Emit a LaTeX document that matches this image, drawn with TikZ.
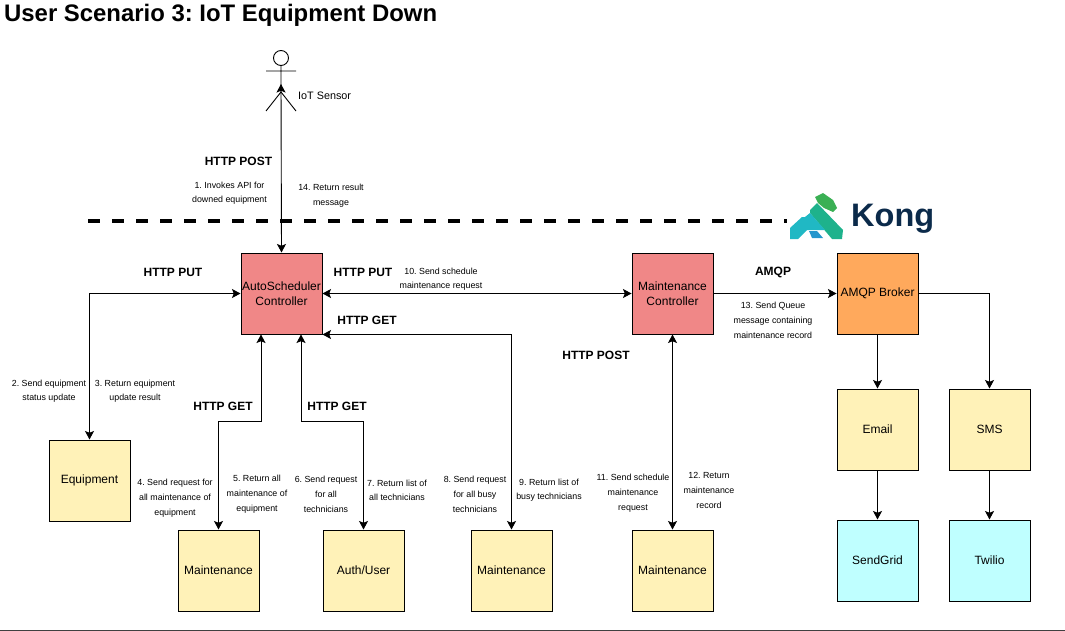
\documentclass[tikz,border=0pt]{standalone}
\usepackage{fontspec}
\setmainfont{Liberation Sans}
\usetikzlibrary{arrows.meta,calc}
\definecolor{redbox}{HTML}{F08787}
\definecolor{orangebox}{HTML}{FFA95C}
\definecolor{yellowbox}{HTML}{FFF2B8}
\definecolor{cyanbox}{HTML}{BFFFFF}
\definecolor{kongnavy}{HTML}{0B2A4A}
\tikzset{
  x=1pt,y=-1pt,
  tip/.tip={Stealth[length=8.5pt,width=9pt,inset=1.8pt]},
  box/.style={draw=black,line width=1pt,minimum width=81pt,minimum height=81pt,inner sep=0pt,align=center,font=\fontsize{12}{15.5}\selectfont},
  ctrl/.style={box,fill=redbox},
  broker/.style={box,fill=orangebox},
  svc/.style={box,fill=yellowbox},
  ext/.style={box,fill=cyanbox},
  conn/.style={line width=0.9pt,-tip},
  biconn/.style={line width=0.9pt,tip-tip},
  proto/.style={font=\bfseries\fontsize{12}{14}\selectfont,inner sep=0pt},
  note/.style={font=\fontsize{8.85}{14.7}\selectfont,align=center,inner sep=0pt,yshift=-0.8pt},
}
\begin{document}
\begin{tikzpicture}
\frenchspacing
\useasboundingbox (0,0) rectangle (1065,631);
\node[anchor=west,inner sep=0pt,font=\bfseries\fontsize{23.9}{26}\selectfont] (title) at (4,15) {User Scenario 3: IoT Equipment Down};
\coordinate (ruleL) at (0,630);\coordinate (ruleR) at (1065,630);
\draw[line width=0.7pt,black!75] (ruleL) -- (ruleR);
% gateway
\coordinate (gwL) at (88,221);\coordinate (gwR) at (787,221);
\draw[line width=3.3pt,dash pattern=on 12pt off 12pt] (gwL) -- (gwR);
% logo
\fill[color={rgb,255:red,58;green,176;blue,84}] (815,197) -- (823,193) -- (833,200) -- (837,208) -- (833,212) -- (824,208) -- (818,203) -- cycle;
\fill[color={rgb,255:red,30;green,178;blue,140}] (810,210) -- (817,203) -- (843,230) -- (842,239) -- (832,239) -- (810,213) -- cycle;
\fill[color={rgb,255:red,32;green,184;blue,196}] (790,228) -- (802,217) -- (805,217) -- (810,213) -- (825,230) -- (807,230) -- (798,239) -- (790,239) -- cycle;
\fill[color={rgb,255:red,36;green,150;blue,205}] (809,231) -- (817,231) -- (823,238) -- (812,238) -- cycle;
\node[anchor=west,inner sep=0pt,text=kongnavy,font=\bfseries\fontsize{32.5}{36}\selectfont] (kong) at (851,219) {Kong};
% actor
\node[draw,circle,line width=0.9pt,minimum size=15pt,inner sep=0pt] (head) at (281,58) {};
\coordinate (armL) at (266,71);\coordinate (armR) at (296,71);
\coordinate (hip) at (281,92);\coordinate (legL) at (266,111);\coordinate (legR) at (296,111);\coordinate (sensor) at (281,84);
\draw[line width=0.9pt] (head) -- (hip) (armL) -- (armR) (legL) -- (hip) -- (legR);
\node[anchor=west,inner sep=0pt,font=\fontsize{10.8}{12}\selectfont] (sensorlabel) at (298,96) {IoT Sensor};
% boxes
\node[ctrl] (auto) at (281.5,293.5) {AutoScheduler\\Controller};
\node[ctrl] (mc) at (672.5,293.5) {Maintenance\\Controller};
\node[broker] (amqp) at (877.5,293.5) {AMQP Broker};
\node[svc] (equip) at (89.5,480.5) {Equipment};
\node[svc] (m1) at (218.5,570.5) {Maintenance};
\node[svc] (authu) at (363.5,570.5) {Auth/User};
\node[svc] (m2) at (511.5,570.5) {Maintenance};
\node[svc] (m3) at (672.5,570.5) {Maintenance};
\node[svc] (email) at (877.5,429.5) {Email};
\node[svc] (sms) at (989.5,429.5) {SMS};
\node[ext] (sendgrid) at (877.5,560.5) {SendGrid};
\node[ext] (twilio) at (989.5,560.5) {Twilio};
% connectors
\draw[biconn] (sensor) -- (auto.north);
\draw[biconn] (auto.west) -| (equip.north);
\draw[biconn] (auto.south -| 261,0) -- (261,421) -| (m1.north);
\draw[biconn] (auto.south -| 301,0) -- (301,421) -| (authu.north);
\draw[biconn] (auto.south east) -- (m2.north |- auto.south) -- (m2.north);
\draw[biconn] (auto.east) -- (mc.west);
\draw[biconn] (mc.south) -- (m3.north);
\draw[conn] (mc.east) -- (amqp.west);
\draw[conn] (amqp.south) -- (email.north);
\draw[conn] (amqp.east) -| (sms.north);
\draw[conn] (email.south) -- (sendgrid.north);
\draw[conn] (sms.south) -- (twilio.north);
% protocol labels
\node[proto] (p1) at (238.5,161) {HTTP POST};
\node[proto] (p2) at (173,272.5) {HTTP PUT};
\node[proto] (p3) at (363,272.5) {HTTP PUT};
\node[proto] (p4) at (367,320) {HTTP GET};
\node[proto] (p5) at (223,406) {HTTP GET};
\node[proto] (p6) at (337,406) {HTTP GET};
\node[proto] (p7) at (596,355) {HTTP POST};
\node[proto] (p8) at (773,272.5) {AMQP};
% notes
\node[note] (n1) at (229.5,192.5) {1. Invokes API for\\downed equipment};
\node[note] (n14) at (331,195) {14. Return result\\message};
\node[note] (n2) at (49,390.5) {2. Send equipment\\status update};
\node[note] (n3) at (135,390.5) {3. Return equipment\\update result};
\node[note] (n4) at (175,497.5) {4. Send request for\\all maintenance of\\equipment};
\node[note] (n5) at (257,493.5) {5. Return all\\maintenance of\\equipment};
\node[note] (n6) at (326,493.5) {6. Send request\\for all\\technicians};
\node[note] (n7) at (397,489.5) {7. Return list of\\all technicians};
\node[note] (n8) at (475,493.5) {8. Send request\\for all busy\\technicians};
\node[note] (n9) at (549,489.5) {9. Return list of\\busy technicians};
\node[note] (n10) at (441,278.5) {10. Send schedule\\maintenance request};
\node[note] (n11) at (633,492.5) {11. Send schedule\\maintenance\\request};
\node[note] (n12) at (709,489.5) {12. Return\\maintenance\\record};
\node[note] (n13) at (773,319.5) {13. Send Queue\\message containing\\maintenance record};
\end{tikzpicture}
\end{document}
